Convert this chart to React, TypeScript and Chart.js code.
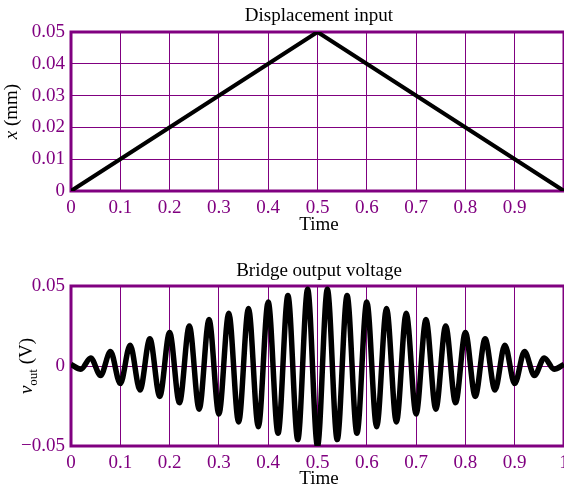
import React, { useEffect, useRef } from 'react';
import { Chart, registerables } from 'chart.js';

Chart.register(...registerables);

// ---------- data ----------
const timeTicks = [0, 0.1, 0.2, 0.3, 0.4, 0.5, 0.6, 0.7, 0.8, 0.9, 1];

const dispTime = [0, 0.5, 1];
const dispValues = [0, 0.05, 0];

const voutTime = [
  0, 0.02, 0.04, 0.06, 0.08, 0.1, 0.12, 0.14, 0.16, 0.18, 0.2, 0.22, 0.24, 0.26, 0.28, 0.3,
  0.32, 0.34, 0.36, 0.38, 0.4, 0.42, 0.44, 0.46, 0.48, 0.5, 0.52, 0.54, 0.56, 0.58, 0.6,
  0.62, 0.64, 0.66, 0.68, 0.7, 0.72, 0.74, 0.76, 0.78, 0.8, 0.82, 0.84, 0.86, 0.88, 0.9,
  0.92, 0.94, 0.96, 0.98, 1,
];
const voutValues = [
  0.001, -0.002, 0.005, -0.006, 0.009, -0.011, 0.013, -0.015, 0.017, -0.019, 0.021, -0.023,
  0.025, -0.027, 0.029, -0.030, 0.033, -0.035, 0.036, -0.038, 0.040, -0.042, 0.044, -0.046,
  0.048, -0.050, 0.048, -0.046, 0.044, -0.042, 0.040, -0.038, 0.036, -0.035, 0.033, -0.030,
  0.029, -0.027, 0.025, -0.023, 0.021, -0.019, 0.017, -0.015, 0.013, -0.011, 0.009, -0.006,
  0.005, -0.002, 0.001,
];

const dispYTicks = [0, 0.01, 0.02, 0.03, 0.04, 0.05];
const voutYTicks = [-0.05, 0, 0.05];

// ---------- style ----------
const PURPLE = '#800080';
const SERIF = '"Liberation Serif", "Times New Roman", serif';
const W = 564;
const H = 243;

type YTitlePart = { text: string; italic?: boolean; size: number; shift?: number };

function fmtTick(v: number): string {
  if (Math.abs(v) < 1e-9) return '0';
  const s = String(Number(Math.abs(v).toFixed(2)));
  return (v < 0 ? '\u2212' : '') + s;
}

function makeDecor(title: string, titleBaseline: number, timeBaseline: number, yParts: YTitlePart[], yBaselineX: number) {
  return {
    id: 'decor',
    beforeDatasetsDraw(chart: any) {
      const { ctx, chartArea } = chart;
      ctx.save();
      ctx.strokeStyle = PURPLE;
      ctx.lineWidth = 3;
      ctx.strokeRect(chartArea.left, chartArea.top, chartArea.right - chartArea.left, chartArea.bottom - chartArea.top);
      ctx.restore();
    },
    afterDraw(chart: any) {
      const { ctx, chartArea } = chart;
      const cx = (chartArea.left + chartArea.right) / 2 + 1.5;
      ctx.save();
      ctx.fillStyle = '#000';
      ctx.textAlign = 'center';
      ctx.textBaseline = 'alphabetic';
      ctx.font = `19px ${SERIF}`;
      ctx.fillText(title, cx, titleBaseline);
      ctx.fillText('Time', cx, timeBaseline);
      // rotated y title
      const cy = (chartArea.top + chartArea.bottom) / 2;
      ctx.translate(yBaselineX, cy);
      ctx.rotate(-Math.PI / 2);
      ctx.textAlign = 'left';
      let total = 0;
      for (const p of yParts) {
        ctx.font = `${p.italic ? 'italic ' : ''}${p.size}px ${SERIF}`;
        total += ctx.measureText(p.text).width;
      }
      let x = -total / 2;
      for (const p of yParts) {
        ctx.font = `${p.italic ? 'italic ' : ''}${p.size}px ${SERIF}`;
        ctx.fillText(p.text, x, p.shift || 0);
        x += ctx.measureText(p.text).width;
      }
      ctx.restore();
    },
  };
}

function buildConfig(opts: {
  xs: number[];
  ys: number[];
  yMin: number;
  yMax: number;
  yTicks: number[];
  lineWidth: number;
  padTop: number;
  xHeight: number;
  showLastX: boolean;
  smooth: boolean;
  plugin: any;
}): any {
  return {
    type: 'line',
    data: {
      datasets: [
        {
          data: opts.xs.map((x, i) => ({ x, y: opts.ys[i] })),
          borderColor: '#000',
          borderWidth: opts.lineWidth,
          pointRadius: 0,
          fill: false,
          cubicInterpolationMode: opts.smooth ? 'monotone' : 'default',
          tension: 0,
          borderJoinStyle: 'miter',
        },
      ],
    },
    options: {
      animation: false,
      responsive: false,
      devicePixelRatio: 1,
      events: [],
      layout: { autoPadding: false, padding: { top: opts.padTop, left: 0, right: 0, bottom: 0 } },
      plugins: { legend: { display: false }, tooltip: { enabled: false }, title: { display: false } },
      scales: {
        x: {
          type: 'linear',
          min: 0,
          max: 1,
          afterFit(scale: any) {
            scale.height = opts.xHeight;
            scale.paddingLeft = 0;
            scale.paddingRight = 0;
            scale.paddingTop = 0;
            scale.paddingBottom = 0;
          },
          afterBuildTicks(scale: any) {
            scale.ticks = timeTicks.map((v) => ({ value: v }));
          },
          ticks: {
            autoSkip: false,
            maxRotation: 0,
            padding: 6,
            color: PURPLE,
            font: { family: SERIF, size: 19 },
            callback: (v: number) => (!opts.showLastX && v >= 1 ? '' : fmtTick(v)),
          },
          grid: { color: PURPLE, lineWidth: 1, drawTicks: false },
          border: { display: false },
        },
        y: {
          type: 'linear',
          min: opts.yMin,
          max: opts.yMax,
          afterFit(scale: any) {
            scale.width = 71;
            scale.paddingLeft = 0;
            scale.paddingRight = 0;
            scale.paddingTop = 0;
            scale.paddingBottom = 0;
          },
          afterBuildTicks(scale: any) {
            scale.ticks = opts.yTicks.map((v) => ({ value: v }));
          },
          ticks: {
            autoSkip: false,
            padding: 6,
            color: PURPLE,
            font: { family: SERIF, size: 19 },
            callback: (v: number) => fmtTick(v),
          },
          grid: { color: PURPLE, lineWidth: 1, drawTicks: false },
          border: { display: false },
        },
      },
    },
    plugins: [opts.plugin],
  };
}

export default function App() {
  const topRef = useRef<HTMLCanvasElement | null>(null);
  const botRef = useRef<HTMLCanvasElement | null>(null);

  useEffect(() => {
    if (!topRef.current || !botRef.current) return;
    const top = new Chart(
      topRef.current,
      buildConfig({
        xs: dispTime,
        ys: dispValues,
        yMin: 0,
        yMax: 0.05,
        yTicks: dispYTicks,
        lineWidth: 4,
        padTop: 32,
        xHeight: 52,
        showLastX: false,
        smooth: false,
        plugin: makeDecor(
          'Displacement input',
          21,
          230,
          [
            { text: 'x', italic: true, size: 19 },
            { text: ' (mm)', size: 19 },
          ],
          17
        ),
      })
    );
    const bot = new Chart(
      botRef.current,
      buildConfig({
        xs: voutTime,
        ys: voutValues,
        yMin: -0.05,
        yMax: 0.05,
        yTicks: voutYTicks,
        lineWidth: 5.5,
        padTop: 43,
        xHeight: 40,
        showLastX: true,
        smooth: true,
        plugin: makeDecor(
          'Bridge output voltage',
          33,
          241,
          [
            { text: 'v', italic: true, size: 19 },
            { text: 'out', size: 13, shift: 5 },
            { text: ' (V)', size: 19 },
          ],
          32
        ),
      })
    );
    return () => {
      top.destroy();
      bot.destroy();
    };
  }, []);

  return (
    <div style={{ position: 'fixed', left: 0, top: 0, width: W, height: 2 * H, background: '#fff' }}>
      <canvas ref={topRef} width={W} height={H} style={{ position: 'absolute', left: 0, top: 0, width: W, height: H }} />
      <canvas ref={botRef} width={W} height={H} style={{ position: 'absolute', left: 0, top: H, width: W, height: H }} />
    </div>
  );
}
